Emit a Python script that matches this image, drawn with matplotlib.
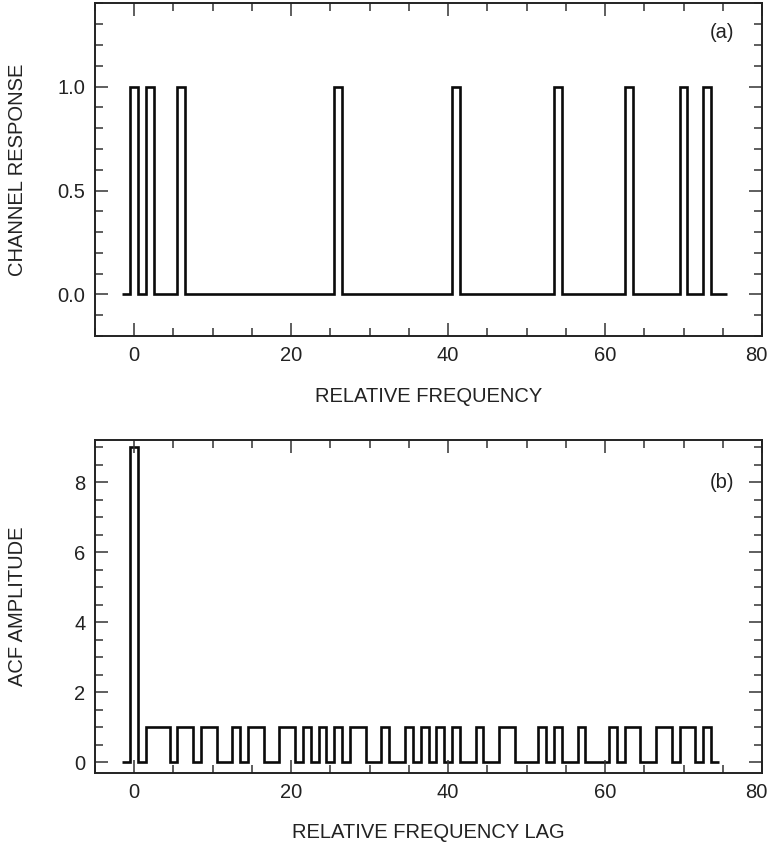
import numpy as np
import matplotlib
matplotlib.use("Agg")
import matplotlib.pyplot as plt
from matplotlib.ticker import MultipleLocator, FormatStrFormatter
import matplotlib.transforms as mtransforms

plt.rcParams['font.family'] = ['Liberation Sans', 'DejaVu Sans']

# ---- data ----
channel_positions = [0, 2, 6, 26, 41, 54, 63, 70, 73]   # channels with response 1.0
channel_level = 1.0
freq_start, freq_end = -1, 75                              # integer frequency grid shown

acf_zero_lag_value = 9
acf_unit_lags = [2, 3, 4, 6, 7, 9, 10, 13, 15, 16, 19, 20, 22, 24, 26, 28, 29, 32,
                 35, 37, 39, 41, 44, 47, 48, 52, 54, 57, 61, 63, 64, 67, 68, 70, 71, 73]
lag_start, lag_end = -1, 74

# ---- build stepped series ----
freqs = np.arange(freq_start, freq_end + 1)
resp = np.array([channel_level if f in channel_positions else 0.0 for f in freqs])
resp_edges = np.append(freqs - 0.5, freqs[-1] + 0.5)

lags = np.arange(lag_start, lag_end + 1)
acf = np.array([acf_zero_lag_value if l == 0 else (1.0 if l in acf_unit_lags else 0.0) for l in lags])
acf_edges = np.append(lags - 0.5, lags[-1] + 0.5)

W, H = 767, 847
fig = plt.figure(figsize=(W / 100, H / 100), dpi=100)
ax1 = fig.add_axes([95 / W, 1 - 336 / H, 667 / W, 332.5 / H])
ax2 = fig.add_axes([95 / W, 1 - 773 / H, 667 / W, 333 / H])

line_kw = dict(color='#0a0a0a', linewidth=1.9, baseline=None)
ax1.stairs(resp, resp_edges, **line_kw)
ax2.stairs(acf, acf_edges, **line_kw)

TXT = '#222222'
FS = 14.5

def style(ax):
    ax.set_xlim(-5, 80)
    ax.xaxis.set_major_locator(MultipleLocator(20))
    ax.xaxis.set_minor_locator(MultipleLocator(5))
    ax.tick_params(which='both', direction='in', top=True, right=True,
                   colors='#333333', labelcolor=TXT, labelsize=FS, width=1.1)
    ax.tick_params(which='major', length=9.5, pad=7)
    ax.tick_params(which='minor', length=5.5)
    for s in ax.spines.values():
        s.set_linewidth(1.4)
        s.set_color('#222222')

def nudge_last_xlabel(ax):
    fig.canvas.draw()
    for lab in ax.get_xticklabels():
        if lab.get_text() == '80':
            lab.set_transform(lab.get_transform() +
                              mtransforms.ScaledTranslation(-6 / 100, 0, fig.dpi_scale_trans))

style(ax1)
ax1.set_ylim(-0.2, 1.4)
ax1.yaxis.set_major_locator(MultipleLocator(0.5))
ax1.yaxis.set_minor_locator(MultipleLocator(0.1))
ax1.yaxis.set_major_formatter(FormatStrFormatter('%.1f'))
ax1.set_xlabel('RELATIVE FREQUENCY', fontsize=FS, color=TXT, va='center')
ax1.xaxis.set_label_coords(0.5, (336 - 396) / 332.5)
ax1.set_ylabel('CHANNEL RESPONSE', fontsize=FS, color=TXT, va='center')
ax1.yaxis.set_label_coords((18 - 95) / 667, 0.5)
ax1.text((722 - 95) / 667, (336 - 33) / 332.5, '(a)', transform=ax1.transAxes,
         fontsize=FS, ha='center', va='center', color=TXT)

style(ax2)
ax2.set_ylim(-0.3, 9.2)
ax2.yaxis.set_major_locator(MultipleLocator(2))
ax2.yaxis.set_minor_locator(MultipleLocator(0.5))
ax2.set_xlabel('RELATIVE FREQUENCY LAG', fontsize=FS, color=TXT, va='center')
ax2.xaxis.set_label_coords(0.5, (773 - 832) / 333)
ax2.set_ylabel('ACF AMPLITUDE', fontsize=FS, color=TXT, va='center')
ax2.yaxis.set_label_coords((18 - 95) / 667, 0.5)
ax2.text((722 - 95) / 667, (773 - 482) / 333, '(b)', transform=ax2.transAxes,
         fontsize=FS, ha='center', va='center', color=TXT)

nudge_last_xlabel(ax1)
nudge_last_xlabel(ax2)

fig.savefig('out.png', dpi=100)
